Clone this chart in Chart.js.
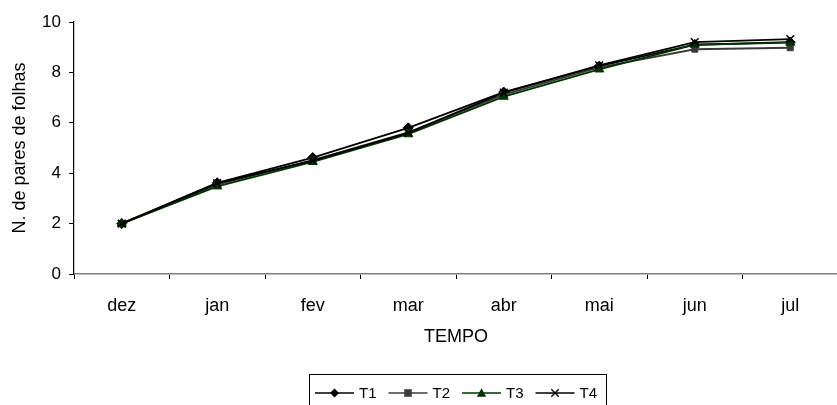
<!DOCTYPE html>
<html>
<head>
<meta charset="utf-8">
<script src="https://cdn.jsdelivr.net/npm/chart.js@4.4.0/dist/chart.umd.min.js"></script>
<style>
  html, body { margin: 0; padding: 0; background: #fff; overflow: hidden; }
  #wrap { width: 837px; height: 405px; overflow: hidden; }
  canvas { display: block; }
</style>
</head>
<body>
<div id="wrap"><canvas id="c" width="845" height="405"></canvas></div>
<script>
// Months of observation
const meses = ['dez', 'jan', 'fev', 'mar', 'abr', 'mai', 'jun', 'jul'];

// Mean number of leaf pairs per treatment
const t1 = [2.0, 3.62, 4.62, 5.80, 7.22, 8.25, 9.10, 9.20];
const t2 = [2.0, 3.55, 4.52, 5.62, 7.12, 8.20, 8.92, 8.98];
const t3 = [2.0, 3.48, 4.45, 5.55, 7.04, 8.12, 9.10, 9.18];
const t4 = [2.0, 3.60, 4.50, 5.60, 7.20, 8.28, 9.20, 9.32];

// Y axis tick values
const yTicks = [0, 2, 4, 6, 8, 10];

const FONT = "'Liberation Sans', Arial, sans-serif";

const series = [
  { label: 'T1', data: t1, color: '#000000', marker: 'rectRot', radius: 5 },
  { label: 'T2', data: t2, color: '#3a3a3a', marker: 'rect', radius: 4.2 },
  { label: 'T3', data: t3, color: '#003300', marker: 'triangle', radius: 5.2 },
  { label: 'T4', data: t4, color: '#000000', marker: 'crossRot', radius: 5.5 }
];

// Draws a marker in the same shapes the line datasets use
function drawMarker(ctx, style, x, y, r, color) {
  ctx.save();
  ctx.fillStyle = color;
  ctx.strokeStyle = color;
  ctx.lineWidth = 1.3;
  ctx.beginPath();
  if (style === 'rectRot') {
    ctx.moveTo(x, y - r); ctx.lineTo(x + r, y); ctx.lineTo(x, y + r); ctx.lineTo(x - r, y);
    ctx.closePath(); ctx.fill();
  } else if (style === 'rect') {
    ctx.rect(x - r, y - r, 2 * r, 2 * r); ctx.fill();
  } else if (style === 'triangle') {
    ctx.moveTo(x, y - r); ctx.lineTo(x + r, y + r * 0.8); ctx.lineTo(x - r, y + r * 0.8);
    ctx.closePath(); ctx.fill();
  } else if (style === 'crossRot') {
    const d = r * 0.75;
    ctx.moveTo(x - d, y - d); ctx.lineTo(x + d, y + d);
    ctx.moveTo(x + d, y - d); ctx.lineTo(x - d, y + d);
    ctx.stroke();
  }
  ctx.restore();
}

// Boxed legend under the axis title: line segment with marker, then label
const boxedLegend = {
  id: 'boxedLegend',
  afterDraw(chart) {
    const ctx = chart.ctx;
    const left = 309, top = 374, right = 606, bottom = 404;
    ctx.save();
    ctx.strokeStyle = '#000';
    ctx.lineWidth = 1;
    ctx.strokeRect(left + 0.5, top + 0.5, right - left, bottom - top + 4);
    ctx.font = '15px ' + FONT;
    ctx.textBaseline = 'middle';
    ctx.textAlign = 'left';
    const cy = 393;
    let x = 315;
    chart.data.datasets.forEach((ds, i) => {
      const s = series[i];
      ctx.strokeStyle = s.color;
      ctx.lineWidth = 1.5;
      ctx.beginPath();
      ctx.moveTo(x, cy); ctx.lineTo(x + 39, cy);
      ctx.stroke();
      drawMarker(ctx, s.marker, x + 19.5, cy, s.radius * 0.9, s.color);
      ctx.fillStyle = '#000';
      ctx.fillText(ds.label, x + 44, cy + 1);
      x += ctx.measureText(ds.label).width + 56;
    });
    ctx.restore();
  }
};

const datasets = series.map((s, i) => ({
  label: s.label,
  data: s.data,
  borderColor: s.color,
  backgroundColor: s.color,
  borderWidth: 1.9,
  pointStyle: s.marker,
  pointRadius: s.radius,
  pointBorderWidth: s.marker === 'crossRot' ? 1.5 : 1,
  pointBackgroundColor: s.color,
  pointBorderColor: s.color,
  tension: 0,
  order: 4 - i
}));

new Chart(document.getElementById('c'), {
  type: 'line',
  data: { labels: meses, datasets },
  options: {
    responsive: false,
    animation: false,
    layout: { padding: { top: 22, left: 0, right: 2, bottom: 0 } },
    plugins: { legend: { display: false }, tooltip: { enabled: false } },
    scales: {
      x: {
        type: 'category',
        offset: true,
        grid: { offset: true, drawOnChartArea: false, color: '#000', tickLength: 5, lineWidth: 1 },
        border: { display: true, color: '#808080', width: 1.5 },
        ticks: { color: '#000', font: { family: FONT, size: 18 }, padding: 16, maxRotation: 0 },
        title: { display: true, text: 'TEMPO', color: '#000', font: { family: FONT, size: 18 }, padding: { top: 0, bottom: 57 } },
        afterFit(scale) { scale.height = 131; }
      },
      y: {
        min: 0, max: 10,
        afterBuildTicks(scale) { scale.ticks = yTicks.map(v => ({ value: v })); },
        grid: { drawOnChartArea: false, color: '#000', tickLength: 5 },
        border: { display: true, color: '#000', width: 1.2 },
        ticks: { color: '#000', font: { family: FONT, size: 17 }, padding: 8 },
        title: { display: true, text: 'N. de pares de folhas', color: '#000', font: { family: FONT, size: 18 }, padding: { top: 9, bottom: 0 } },
        afterFit(scale) { scale.width = 74; }
      }
    }
  },
  plugins: [boxedLegend]
});
</script>
</body>
</html>
